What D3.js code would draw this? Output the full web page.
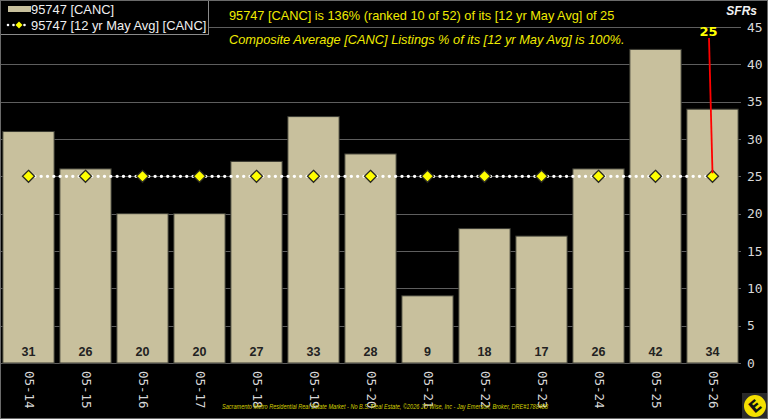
<!DOCTYPE html>
<html>
<head>
<meta charset="utf-8">
<script src="https://cdn.jsdelivr.net/npm/d3@7"></script>
<style>
  html, body { margin: 0; padding: 0; background: #000; }
  svg { display: block; }
</style>
</head>
<body>
<svg id="chart" width="768" height="419"></svg>
<script>
// chart data
const categories = ["05-14", "05-15", "05-16", "05-17", "05-18", "05-19", "05-20",
                    "05-21", "05-22", "05-23", "05-24", "05-25", "05-26"];
const listings = [31, 26, 20, 20, 27, 33, 28, 9, 18, 17, 26, 42, 34];
const avg12yr = [25, 25, 25, 25, 25, 25, 25, 25, 25, 25, 25, 25, 25];
const yTicks = [0, 5, 10, 15, 20, 25, 30, 35, 40, 45];

const titleLine1 = "95747 [CANC] is 136% (ranked 10 of 52) of its [12 yr May Avg] of 25";
const titleLine2 = "Composite Average [CANC] Listings % of its [12 yr May Avg] is 100%.";
const footer = "Sacramento Metro Residential Real Estate Market - No B.S. Real Estate, \u00a92026 JD Wise, Inc - Jay Emerson, Broker, DRE#1788488";

const svg = d3.select("#chart");
const barColor = "#c8c09d";
const yellow = "#f0eb00";
const mono = "'DejaVu Sans Mono', monospace";

svg.append("rect").attr("width", 768).attr("height", 419).attr("fill", "#000");

const x = d3.scaleBand()
    .domain(categories)
    .range([0, 741])
    .paddingInner(0.1)
    .paddingOuter(0.05);

const y = d3.scaleLinear()
    .domain([0, 45])
    .range([363, 27]);

// gridlines
svg.append("g")
  .selectAll("line")
  .data(yTicks)
  .enter().append("line")
    .attr("x1", 0)
    .attr("x2", 741)
    .attr("y1", d => Math.round(y(d)) + 0.5)
    .attr("y2", d => Math.round(y(d)) + 0.5)
    .attr("stroke", "#5e5e5e")
    .attr("stroke-width", 1);

// bars
svg.append("g")
  .selectAll("rect")
  .data(listings)
  .enter().append("rect")
    .attr("x", (d, i) => x(categories[i]))
    .attr("y", d => y(d))
    .attr("width", x.bandwidth())
    .attr("height", d => y(0) - y(d))
    .attr("fill", barColor)
    .attr("stroke", "#3a3a32")
    .attr("stroke-width", 1);

// value labels inside bars
svg.append("g")
  .selectAll("text")
  .data(listings)
  .enter().append("text")
    .attr("x", (d, i) => x(categories[i]) + x.bandwidth() / 2)
    .attr("y", y(0) - 7)
    .attr("text-anchor", "middle")
    .attr("font-family", "'Liberation Sans', Arial, sans-serif")
    .attr("font-weight", "bold")
    .attr("font-size", "12.5px")
    .attr("fill", "#222")
    .text(d => d);

// y axis on the right
const yAxis = svg.append("g")
    .attr("transform", "translate(741,0)")
    .call(d3.axisRight(y).tickValues(yTicks).tickSize(0).tickPadding(6));
yAxis.select(".domain").remove();
yAxis.selectAll("text")
    .attr("font-family", mono)
    .attr("font-size", "13px")
    .attr("fill", "#d8d8d8");

// x axis labels, rotated
const xAxis = svg.append("g")
    .attr("transform", "translate(0," + y(0) + ")")
    .call(d3.axisBottom(x).tickSize(0).tickPadding(0));
xAxis.select(".domain").remove();
xAxis.selectAll("text")
    .attr("font-family", mono)
    .attr("font-size", "12.5px")
    .attr("fill", "#d8d8d8")
    .attr("text-anchor", "start")
    .attr("dy", null)
    .attr("y", 0)
    .attr("transform", "translate(-4,8) rotate(90)");

// dotted average line
const line = d3.line()
    .x((d, i) => x(categories[i]) + x.bandwidth() / 2)
    .y(d => y(d));

svg.append("path")
    .datum(avg12yr)
    .attr("d", line)
    .attr("fill", "none")
    .attr("stroke", "#fff")
    .attr("stroke-width", 3.4)
    .attr("stroke-linecap", "round")
    .attr("stroke-dasharray", "0,6.33");

const diamond = "M0,-6L6,0L0,6L-6,0Z";
svg.append("g")
  .selectAll("path")
  .data(avg12yr)
  .enter().append("path")
    .attr("d", diamond)
    .attr("transform", (d, i) => "translate(" + (x(categories[i]) + x.bandwidth() / 2) + "," + y(d) + ")")
    .attr("fill", "#ffff00")
    .attr("stroke", "#2a2a20")
    .attr("stroke-width", 1.3);

// callout for last average point
const lastI = categories.length - 1;
const lastX = x(categories[lastI]) + x.bandwidth() / 2;
svg.append("line")
    .attr("x1", lastX - 3.5)
    .attr("y1", y(45) + 11)
    .attr("x2", lastX)
    .attr("y2", y(avg12yr[lastI]) - 3)
    .attr("stroke", "#ff0000")
    .attr("stroke-width", 1.8);
svg.append("text")
    .attr("x", lastX - 4)
    .attr("y", y(45) + 9)
    .attr("text-anchor", "middle")
    .attr("font-family", "'DejaVu Sans', sans-serif")
    .attr("font-weight", "bold")
    .attr("font-size", "13px")
    .attr("fill", "#ffff00")
    .text(avg12yr[lastI]);

// SFRs unit label
svg.append("text")
    .attr("x", 757)
    .attr("y", 15)
    .attr("text-anchor", "end")
    .attr("font-family", "'Liberation Sans', Arial, sans-serif")
    .attr("font-weight", "bold")
    .attr("font-style", "italic")
    .attr("font-size", "12px")
    .attr("fill", "#f2f2f2")
    .text("SFRs");

// titles
svg.append("text")
    .attr("x", 229)
    .attr("y", 20)
    .attr("font-family", "'Liberation Sans', Arial, sans-serif")
    .attr("font-size", "12.75px")
    .attr("fill", yellow)
    .text(titleLine1);
svg.append("text")
    .attr("x", 229)
    .attr("y", 44)
    .attr("font-family", "'Liberation Sans', Arial, sans-serif")
    .attr("font-style", "italic")
    .attr("font-size", "12.8px")
    .attr("fill", yellow)
    .text(titleLine2);

// legend
const legend = svg.append("g");
legend.append("rect")
    .attr("x", 0.5).attr("y", 0.5)
    .attr("width", 208).attr("height", 34)
    .attr("fill", "#000")
    .attr("stroke", "#8a8a8a");
legend.append("rect")
    .attr("x", 8).attr("y", 6)
    .attr("width", 23).attr("height", 6)
    .attr("fill", barColor);
legend.append("text")
    .attr("x", 31).attr("y", 14)
    .attr("font-family", "'Liberation Sans', Arial, sans-serif")
    .attr("font-size", "12.9px")
    .attr("fill", "#f0f0f0")
    .text("95747 [CANC]");
legend.append("line")
    .attr("x1", 8).attr("x2", 30)
    .attr("y1", 25).attr("y2", 25)
    .attr("stroke", "#fff")
    .attr("stroke-width", 2.6)
    .attr("stroke-linecap", "round")
    .attr("stroke-dasharray", "0,5.5");
legend.append("path")
    .attr("d", "M0,-3.5L3.5,0L0,3.5L-3.5,0Z")
    .attr("transform", "translate(19,25)")
    .attr("fill", "#ffff00");
legend.append("text")
    .attr("x", 31).attr("y", 30)
    .attr("font-family", "'Liberation Sans', Arial, sans-serif")
    .attr("font-size", "12.9px")
    .attr("fill", "#f0f0f0")
    .text("95747 [12 yr May Avg] [CANC]");

// footer
svg.append("text")
    .attr("x", 222)
    .attr("y", 409)
    .attr("font-family", "'Liberation Sans', Arial, sans-serif")
    .attr("font-style", "italic")
    .attr("font-size", "6.5px")
    .attr("textLength", 326)
    .attr("lengthAdjust", "spacingAndGlyphs")
    .attr("fill", "#d4d000")
    .text(footer);

// logo
const logo = svg.append("g").attr("transform", "translate(755,406)");
logo.append("rect")
    .attr("x", -13).attr("y", -13)
    .attr("width", 26).attr("height", 26)
    .attr("fill", "#2a2a2a");
logo.append("circle")
    .attr("r", 11)
    .attr("fill", "#f5e000");
logo.append("text")
    .attr("text-anchor", "middle")
    .attr("dy", "0.36em")
    .attr("transform", "rotate(-40)")
    .attr("font-family", "'DejaVu Sans', sans-serif")
    .attr("font-weight", "bold")
    .attr("font-size", "16px")
    .attr("fill", "#111")
    .text("E");

// outer frame
svg.append("rect")
    .attr("x", 0.5).attr("y", 0.5)
    .attr("width", 767).attr("height", 418)
    .attr("fill", "none")
    .attr("stroke", "#6a6a6a");
</script>
</body>
</html>
